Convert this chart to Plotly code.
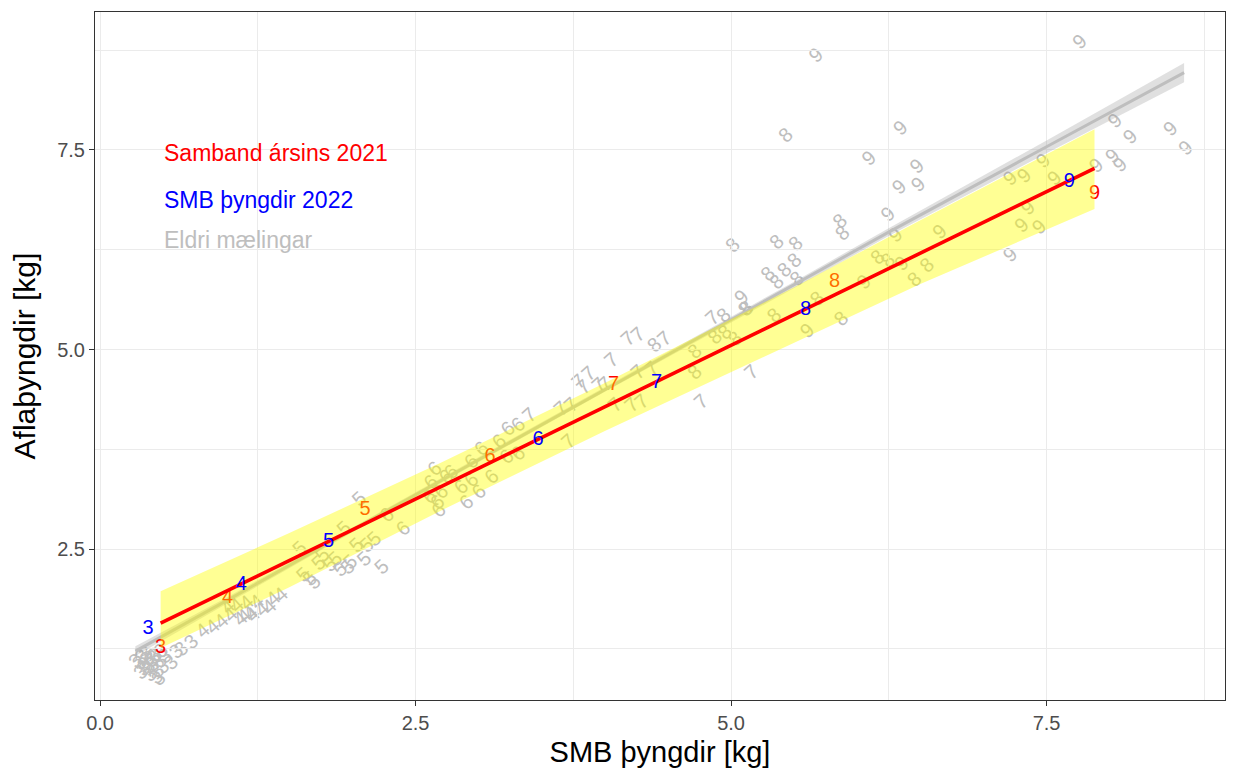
import plotly.graph_objects as go

# ---------------- data ----------------
# Older measurements (grey, labelled by age)
old_x = [0.30, 0.33, 0.36, 0.38, 0.40, 0.42, 0.44, 0.46, 0.35, 0.48, 0.50, 0.39, 0.43, 0.63, 0.71, 0.59, 0.55, 0.32, 0.47,
         0.27, 0.31, 0.37, 0.45, 0.41, 0.34,
         0.95, 1.02, 1.07, 1.10, 1.13, 1.18, 1.20, 1.23, 1.27, 1.33, 1.36, 1.42, 1.00, 1.15, 0.88, 0.80,
         1.57, 1.60, 1.65, 1.68, 1.72, 1.81, 1.85, 1.89, 1.92, 1.97, 2.02, 2.04, 2.08, 2.10, 2.16, 2.22, 1.75, 1.95,
         2.64, 2.67, 2.61, 2.69, 2.73, 2.60, 2.77, 2.85, 2.93, 3.01, 2.99, 2.89, 3.09, 3.21, 3.30, 3.15, 3.22, 3.30, 2.93, 2.66, 2.39, 2.26,
         3.39, 3.70, 3.64, 3.72, 3.78, 3.86, 3.94, 3.99, 4.04, 4.17, 4.25, 4.46, 4.25, 4.36, 4.07, 4.20, 4.28, 4.75, 5.15, 4.84, 3.82,
         5.42, 5.00, 5.35, 5.50, 5.49, 5.85, 5.87, 5.28, 5.35, 5.41, 5.51, 6.15, 6.23, 6.54, 6.44, 5.67, 5.86, 5.33, 5.10, 4.93, 4.86,
         4.38, 4.70, 4.70, 4.94, 5.02, 5.11,
         5.66, 7.75, 6.33, 6.08, 6.46, 6.32, 6.47, 6.23, 8.03, 8.15, 8.47, 8.59, 8.01, 8.07, 7.88, 7.46, 7.20, 7.31, 7.55, 7.34,
         7.29, 7.43, 7.20, 6.64, 6.29, 6.04, 5.59, 5.07, 6.34]
old_y = [1.10, 1.02, 1.15, 0.95, 1.08, 1.20, 1.00, 1.12, 1.22, 1.05, 1.18, 1.13, 0.92, 1.27, 1.36, 1.24, 1.10, 1.18, 1.25,
         1.12, 0.98, 1.05, 0.90, 1.17, 1.08,
         1.62, 1.70, 1.82, 1.65, 1.68, 1.72, 1.70, 1.86, 1.77, 1.80, 1.90, 1.95, 1.80, 1.85, 1.55, 1.50,
         2.53, 2.20, 2.15, 2.11, 2.35, 2.33, 2.40, 2.27, 2.78, 2.36, 2.57, 3.15, 2.40, 2.57, 2.65, 2.30, 2.45, 2.30,
         3.53, 3.01, 3.36, 3.24, 3.43, 3.18, 3.49, 3.30, 3.62, 3.78, 3.24, 3.11, 3.43, 3.68, 3.72, 3.87, 4.03, 4.08, 3.39, 3.11, 2.78, 2.95,
         4.20, 3.87, 4.28, 4.33, 4.62, 4.72, 4.58, 4.59, 4.89, 5.16, 5.21, 5.16, 4.74, 4.78, 4.33, 4.33, 4.37, 4.37, 4.74, 5.42, 4.55,
         7.71, 6.33, 6.37, 6.35, 6.14, 6.63, 6.48, 5.97, 5.87, 6.02, 5.91, 6.18, 6.14, 6.08, 5.90, 5.66, 5.41, 5.45, 5.53, 5.45, 5.18,
         5.08, 5.00, 4.74, 5.24, 5.16, 5.54,
         8.71, 8.88, 7.80, 7.42, 7.32, 7.06, 7.09, 6.72, 7.89, 7.69, 7.79, 7.55, 7.45, 7.34, 7.33, 7.39, 7.17, 7.20, 7.17, 6.80,
         6.58, 6.56, 6.21, 6.50, 6.46, 5.87, 5.26, 5.68, 6.10]
old_age = [3] * 25 + [4] * 16 + [5] * 18 + [6] * 22 + [7] * 21 + [8] * 27 + [9] * 29

# Relationship for 2021 (red labels)
rel_age = [3, 4, 5, 6, 7, 8, 9]
rel_x = [0.48, 1.01, 2.10, 3.09, 4.07, 5.82, 7.88]
rel_y = [1.26, 1.89, 2.99, 3.65, 4.56, 5.85, 6.95]

# SMB weights 2022 (blue labels)
smb_age = [3, 4, 5, 6, 7, 8, 9]
smb_x = [0.38, 1.12, 1.81, 3.47, 4.41, 5.59, 7.68]
smb_y = [1.50, 2.05, 2.59, 3.87, 4.58, 5.49, 7.10]

# 2021 fitted line and band
fit_x = [0.48, 7.88]
fit_y = [1.57, 7.27]
band_x = [0.48, 1.5, 2.7, 4.0, 5.5, 6.5, 7.88]
band_hi = [1.97, 2.70, 3.58, 4.58, 5.78, 6.62, 7.76]
band_lo = [1.26, 2.02, 2.98, 3.98, 5.08, 5.82, 6.76]

# smooth through older measurements
old_fit_x = [0.28, 1.0, 2.0, 3.0, 4.0, 4.6, 5.5, 6.26, 7.5, 8.59]
old_fit_y = [1.22, 1.85, 2.74, 3.62, 4.50, 5.02, 5.81, 6.48, 7.54, 8.47]
old_fit_se = [0.06, 0.04, 0.03, 0.03, 0.03, 0.03, 0.04, 0.05, 0.08, 0.12]

legend_text = ["Samband ársins 2021", "SMB þyngdir 2022", "Eldri mælingar"]
legend_color = ["#FF0000", "#0000FF", "#BEBEBE"]
legend_y = [7.46, 6.87, 6.37]

x_ticks = [0.0, 2.5, 5.0, 7.5]
y_ticks = [2.5, 5.0, 7.5]

FONT = "Liberation Sans, Arial, Helvetica, sans-serif"
GREY = "#BEBEBE"

fig = go.Figure()

# grey smooth band and line
fig.add_trace(go.Scatter(
    x=old_fit_x + old_fit_x[::-1],
    y=[a + b for a, b in zip(old_fit_y, old_fit_se)] + [a - b for a, b in zip(old_fit_y, old_fit_se)][::-1],
    fill="toself", fillcolor="rgba(153,153,153,0.3)", line=dict(width=0),
    mode="lines", hoverinfo="skip", showlegend=False))
fig.add_trace(go.Scatter(x=old_fit_x, y=old_fit_y, mode="lines",
                         line=dict(color=GREY, width=3), showlegend=False))

# red labels (under the yellow band)
fig.add_trace(go.Scatter(x=rel_x, y=rel_y, mode="text", text=[str(a) for a in rel_age],
                         textposition="middle center",
                         textfont=dict(color="#FF0000", size=20, family=FONT), showlegend=False))

# yellow band
fig.add_trace(go.Scatter(x=band_x + band_x[::-1], y=band_hi + band_lo[::-1],
                         fill="toself", fillcolor="rgba(255,255,0,0.42)", line=dict(width=0),
                         mode="lines", hoverinfo="skip", showlegend=False))

# red line
fig.add_trace(go.Scatter(x=fit_x, y=fit_y, mode="lines",
                         line=dict(color="#FF0000", width=3.6), showlegend=False))

# blue labels
fig.add_trace(go.Scatter(x=smb_x, y=smb_y, mode="text", text=[str(a) for a in smb_age],
                         textposition="middle center",
                         textfont=dict(color="#0000FF", size=20, family=FONT), showlegend=False))

# grey rotated labels as shape labels below the traces
shapes = []
for x, y, a in zip(old_x, old_y, old_age):
    shapes.append(dict(type="rect", xref="x", yref="y", x0=x - 0.001, x1=x + 0.001,
                       y0=y - 0.001, y1=y + 0.001, line=dict(width=0), layer="below",
                       label=dict(text=str(a), textangle=-42, textposition="middle center",
                                  font=dict(color=GREY, size=20, family=FONT))))

annotations = []
for t, c, yy in zip(legend_text, legend_color, legend_y):
    annotations.append(dict(x=0.49, y=yy, xref="x", yref="y", text=t, showarrow=False,
                            xanchor="left", yanchor="middle",
                            font=dict(color=c, size=23, family=FONT)))

axis_common = dict(
    automargin=False,
    showgrid=True, gridcolor="#EBEBEB", gridwidth=1.1,
    showline=True, mirror=True, linecolor="#333333", linewidth=1.1,
    ticks="outside", ticklen=5, tickcolor="#333333", tickwidth=1.1,
    tickfont=dict(size=20, color="#4D4D4D", family=FONT),
    zeroline=False,
    minor=dict(dtick=1.25, tick0=0, showgrid=True, gridcolor="#EBEBEB", gridwidth=0.6, ticks=""),
)

# the page body adds an 8px offset, so the figure is 8px smaller and margins shifted
fig.update_layout(
    width=1231, height=765,
    margin=dict(l=87, r=14, t=4, b=73),
    paper_bgcolor="white", plot_bgcolor="white",
    shapes=shapes, annotations=annotations,
    font=dict(family=FONT),
    xaxis=dict(range=[-0.04, 8.914], tickvals=x_ticks, ticktext=[f"{v:.1f}" for v in x_ticks],
               title=dict(text="SMB þyngdir [kg]", font=dict(size=29, color="black", family=FONT), standoff=8),
               **axis_common),
    yaxis=dict(range=[0.608, 9.229], tickvals=y_ticks, ticktext=[f"{v:.1f}" for v in y_ticks],
               title=dict(text="Aflaþyngdir [kg]", font=dict(size=30, color="black", family=FONT), standoff=12),
               **axis_common),
)

fig.write_html("out.html")
